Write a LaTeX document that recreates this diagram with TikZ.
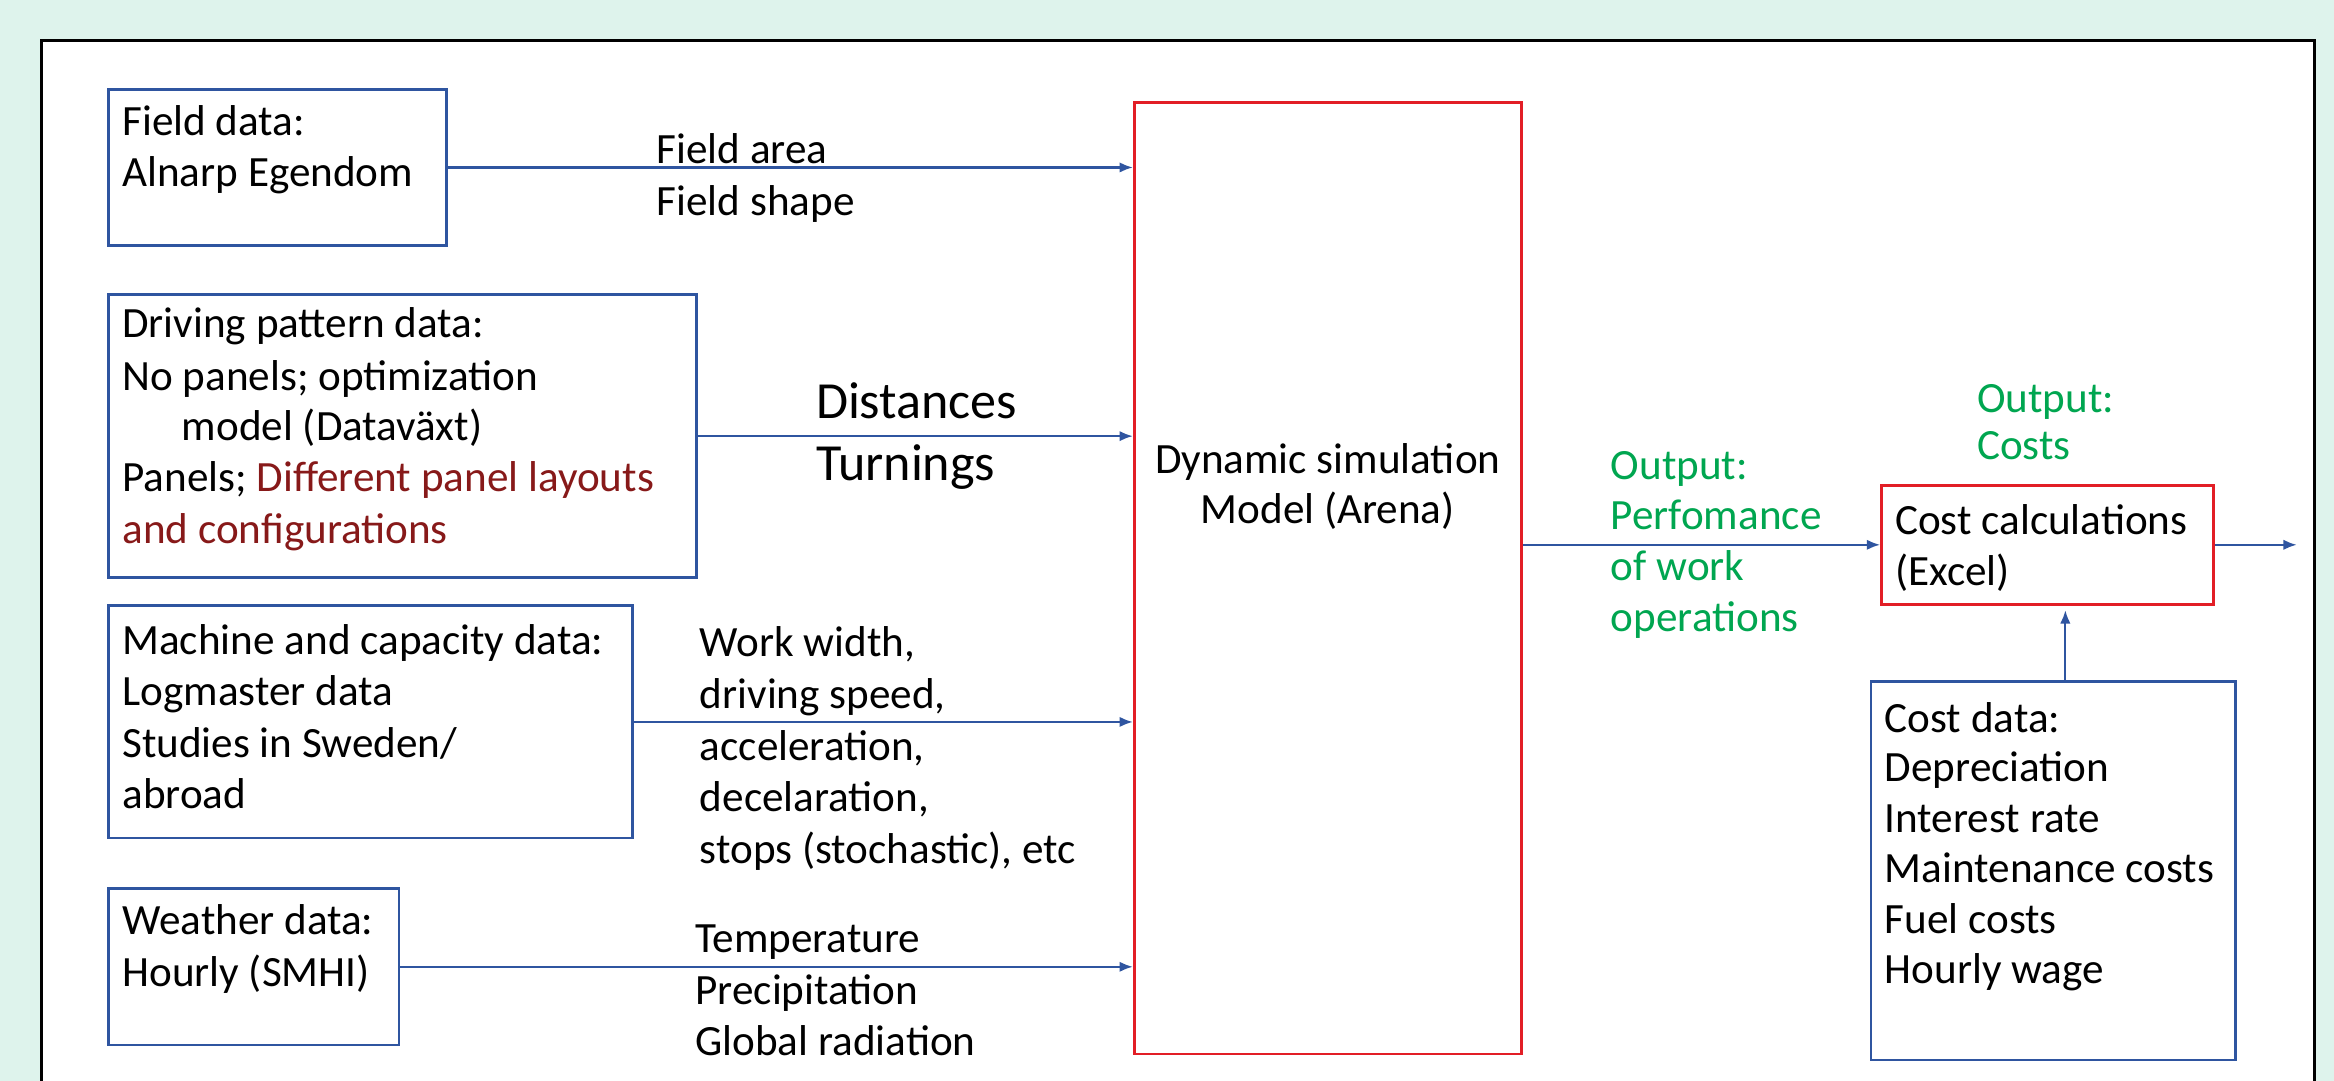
\documentclass[tikz,border=0pt]{standalone}
\usepackage{fontspec}
\setmainfont{Carlito}
\usetikzlibrary{arrows.meta,calc}
\definecolor{bgmint}{RGB}{222,243,236}
\definecolor{lineblue}{RGB}{47,85,160}
\definecolor{boxred}{RGB}{226,30,38}
\definecolor{outgreen}{RGB}{0,166,80}
\definecolor{darkmaroon}{RGB}{135,25,25}
\begin{document}
\begin{tikzpicture}[x=1pt,y=-1pt,
  bbox/.style={draw=lineblue,line width=1.8pt,inner sep=0pt},
  rbox/.style={draw=boxred,line width=1.8pt,inner sep=0pt},
  txt/.style={font=\fontsize{29}{34}\selectfont,inner sep=0pt,anchor=base west},
  bigtxt/.style={font=\fontsize{35}{42}\selectfont,inner sep=0pt,anchor=base west},
  conn/.style={draw=lineblue,line width=1.5pt,-{Latex[length=9pt,width=7pt]}},
]
\useasboundingbox (0,0) rectangle (1568,726);
\fill[bgmint] (0,0) rectangle (1568,726);
\begin{scope}
\clip (0,0) rectangle (1568,726);
\draw[black,line width=2pt,fill=white] (28,27) rectangle (1555,780);
\end{scope}

% boxes
\node[bbox,minimum width=227pt,minimum height=105pt] (field) at (186.5,112.5) {};
\node[bbox,minimum width=395pt,minimum height=190pt] (drive) at (270.5,293) {};
\node[bbox,minimum width=352pt,minimum height=156pt] (mach) at (249,485) {};
\node[bbox,minimum width=195pt,minimum height=105pt] (wea) at (170.5,649.5) {};
\node[rbox,minimum width=260pt,minimum height=639pt] (dyn) at (892,388.5) {};
\node[rbox,minimum width=223pt,minimum height=80pt] (cost) at (1375.5,366) {};
\node[bbox,minimum width=245pt,minimum height=254pt] (cdata) at (1379.5,585) {};

% connectors
\draw[conn] (field.east) -- (field.east -| dyn.west);
\draw[conn] (drive.east) -- (drive.east -| dyn.west);
\draw[conn] (mach.east) -- (mach.east -| dyn.west);
\draw[conn] (wea.east) -- (wea.east -| dyn.west);
\draw[conn] (cost.west -| dyn.east) -- (cost.west);
\coordinate (outend) at (1543,366);
\draw[conn] (cost.east) -- (outend);
\draw[conn,shorten >=3pt] ([xshift=8pt]cdata.north) -- ([xshift=8pt]cdata.north |- cost.south);

% field data
\node[txt] (fd1) at (82,91) {Field data:};
\node[txt] (fd2) at (82,125) {Alnarp Egendom};
\node[txt] (fl1) at (441,110) {Field area};
\node[txt] (fl2) at (441,145) {Field shape};

% driving pattern
\node[txt] (dp1) at (82,227) {Driving pattern data:};
\node[txt] (dp2) at (82,262) {No panels; optimization};
\node[txt] (dp3) at (122,296) {model (Datav\"axt)};
\node[txt] (dp4) at (82,330) {Panels; \textcolor{darkmaroon}{Different panel layouts}};
\node[txt,text=darkmaroon] (dp5) at (82,365) {and configurations};
\node[bigtxt] (dl1) at (548,281) {Distances};
\node[bigtxt] (dl2) at (548,323) {Turnings};

% machine
\node[txt] (mc1) at (82,440) {Machine and capacity data:};
\node[txt] (mc2) at (82,474) {Logmaster data};
\node[txt] (mc3) at (82,509) {Studies in Sweden/};
\node[txt] (mc4) at (82,543) {abroad};
\node[txt] (ml1) at (470,441) {Work width,};
\node[txt] (ml2) at (470,476) {driving speed,};
\node[txt] (ml3) at (470,511) {acceleration,};
\node[txt] (ml4) at (470,545) {decelaration,};
\node[txt] (ml5) at (470,580) {stops (stochastic), etc};

% weather
\node[txt] (wd1) at (82,628) {Weather data:};
\node[txt] (wd2) at (82,663) {Hourly (SMHI)};
\node[txt] (wl1) at (467,640) {Temperature};
\node[txt] (wl2) at (467,675) {Precipitation};
\node[txt] (wl3) at (467,709) {Global radiation};

% dynamic model
\node[txt,anchor=base] (dm1) at (892,318) {Dynamic simulation};
\node[txt,anchor=base] (dm2) at (892,352) {Model (Arena)};

% outputs
\node[txt,text=outgreen] (op1) at (1082,322) {Output:};
\node[txt,text=outgreen] (op2) at (1082,356) {Perfomance};
\node[txt,text=outgreen] (op3) at (1082,390) {of work};
\node[txt,text=outgreen] (op4) at (1082,424) {operations};
\node[txt,text=outgreen] (oc1) at (1328,277) {Output:};
\node[txt,text=outgreen] (oc2) at (1328,309) {Costs};

% cost calc
\node[txt] (cc1) at (1273,359) {Cost calculations};
\node[txt] (cc2) at (1273,393) {(Excel)};

% cost data
\node[txt] (cd1) at (1266,492) {Cost data:};
\node[txt] (cd2) at (1266,525) {Depreciation};
\node[txt] (cd3) at (1266,559) {Interest rate};
\node[txt] (cd4) at (1266,593) {Maintenance costs};
\node[txt] (cd5) at (1266,627) {Fuel costs};
\node[txt] (cd6) at (1266,661) {Hourly wage};
\end{tikzpicture}
\end{document}
